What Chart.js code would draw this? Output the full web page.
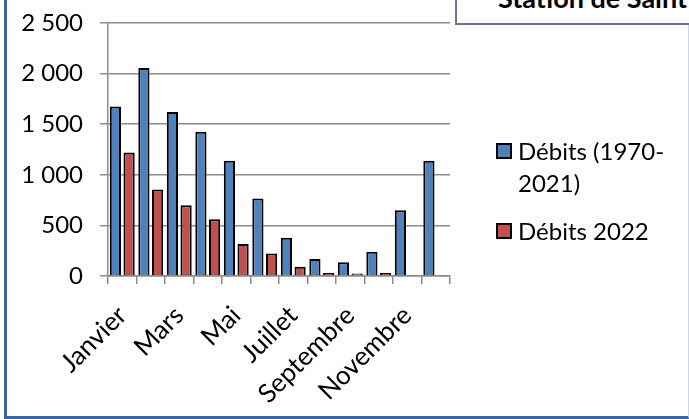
<!DOCTYPE html>
<html>
<head>
<meta charset="utf-8">
<script src="https://cdn.jsdelivr.net/npm/chart.js@4.4.1/dist/chart.umd.min.js"></script>
<style>
  html, body { margin: 0; padding: 0; background: #fff; overflow: hidden; }
  #wrap { position: relative; width: 689px; height: 419px; overflow: hidden; }
  #debitsChart { position: absolute; left: 0; top: 0; }
  .frame {
    position: absolute; left: 4px; top: -20px; width: 685px; height: 439px;
    box-sizing: border-box;
    border-left: 3px solid #3a65a0;
    border-bottom: 3px solid #3a65a0;
    border-right: 1px solid #c9d6ea;
  }
  .title-box {
    position: absolute; left: 455px; top: -29px; width: 400px; height: 54px;
    box-sizing: border-box; background: #fff;
    border: 2px solid #7f6aa8;
  }
  .title-box span {
    position: absolute; left: 41px; top: 8px;
    font: bold 27px Lato, sans-serif; color: #000; white-space: nowrap;
  }
  .legend { position: absolute; left: 496px; top: 135px; font: 24px Lato, sans-serif; color: #000; }
  .legend .item { position: relative; padding-left: 22px; line-height: 32px; }
  .legend .item + .item { margin-top: 16px; }
  .legend .swatch {
    position: absolute; left: 0; top: 8px; width: 16px; height: 16px;
    box-sizing: border-box; border: 2px solid #000;
  }
</style>
</head>
<body>
<div id="wrap">
  <div class="frame"></div>
  <canvas id="debitsChart" width="689" height="419"></canvas>
  <div class="title-box"><span>Station de Saint</span></div>
  <div class="legend">
    <div class="item"><span class="swatch" style="background:#4f81bd"></span>Débits (1970-<br>2021)</div>
    <div class="item"><span class="swatch" style="background:#c0504d"></span>Débits 2022</div>
  </div>
</div>
<script>
// Monthly discharge values
const months = ['Janvier', 'Février', 'Mars', 'Avril', 'Mai', 'Juin',
  'Juillet', 'Août', 'Septembre', 'Octobre', 'Novembre', 'Décembre'];
const debitsMoyens = [1675, 2055, 1620, 1425, 1140, 765, 377, 167, 135, 239, 650, 1140];
const debits2022 = [1220, 855, 700, 560, 315, 223, 92, 30, 25, 30, null, null];
const yTickLabels = ['0', '500', '1 000', '1 500', '2 000', '2 500'];

const gridGray = '#8c8c8c';

const ctx = document.getElementById('debitsChart').getContext('2d');
new Chart(ctx, {
  type: 'bar',
  data: {
    labels: months,
    datasets: [{
      label: 'Débits (1970-2021)',
      data: debitsMoyens,
      backgroundColor: '#4f81bd',
      borderColor: '#000',
      borderWidth: 2,
      categoryPercentage: 0.96,
      barPercentage: 0.82
    }, {
      label: 'Débits 2022',
      data: debits2022,
      backgroundColor: '#c0504d',
      borderColor: '#000',
      borderWidth: 2,
      categoryPercentage: 0.96,
      barPercentage: 0.82
    }]
  },
  options: {
    responsive: false,
    animation: false,
    layout: { padding: { left: 0, top: 23, right: 239, bottom: 0 } },
    plugins: {
      legend: { display: false },
      tooltip: { enabled: false }
    },
    scales: {
      y: {
        min: 0,
        max: 2500,
        // fixed axis width, and no extra room reserved above the top label
        afterFit: scale => {
          scale.width = 108;
          scale.paddingTop = 0;
          scale.paddingBottom = 0;
        },
        ticks: {
          stepSize: 500,
          padding: 17,
          color: '#000',
          font: { family: 'Lato, sans-serif', size: 24 },
          callback: (value, index) => yTickLabels[index]
        },
        grid: { color: gridGray, lineWidth: 1.5, tickLength: 8 },
        border: { color: gridGray, width: 1.5 }
      },
      x: {
        afterFit: scale => { scale.height = 143; },
        ticks: {
          autoSkip: false,
          minRotation: 45,
          maxRotation: 45,
          padding: 16,
          color: '#000',
          font: { family: 'Lato, sans-serif', size: 26 },
          callback: (value, index) => index % 2 === 0 ? months[index] : ''
        },
        grid: { drawOnChartArea: false, color: gridGray, lineWidth: 1.5, tickLength: 8 },
        border: { color: gridGray, width: 1.5 }
      }
    }
  }
});
</script>
</body>
</html>
